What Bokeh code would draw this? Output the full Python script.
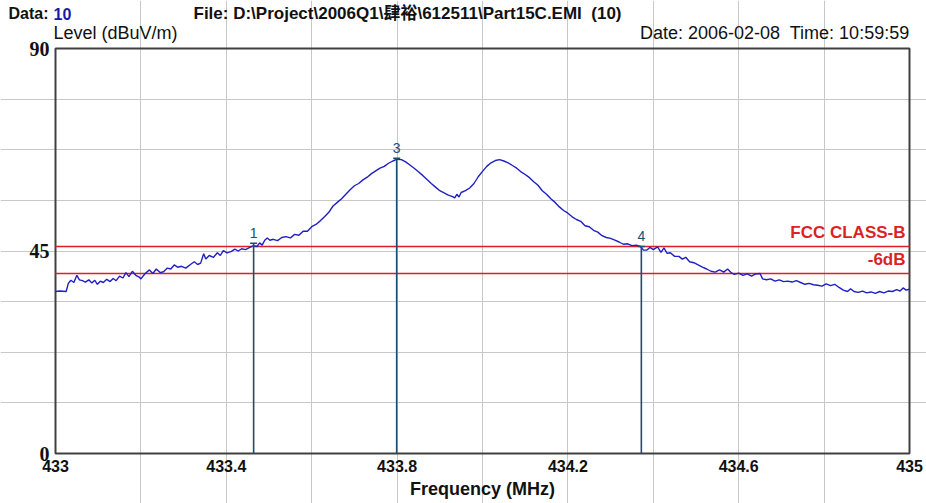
from bokeh.plotting import figure
from bokeh.models import Range1d, FixedTicker, NumeralTickFormatter, Label, ColumnDataSource
from bokeh.embed import file_html
from bokeh.resources import INLINE

# ---- data ----
freq = [433.000, 433.010, 433.025, 433.030, 433.036, 433.043, 433.050, 433.056, 433.063, 433.070,
        433.078, 433.085, 433.092, 433.098, 433.105, 433.112, 433.120, 433.128, 433.135, 433.142,
        433.150, 433.158, 433.165, 433.172, 433.180, 433.188, 433.196, 433.200, 433.210, 433.220,
        433.228, 433.236, 433.245, 433.253, 433.262, 433.270, 433.278, 433.286, 433.295, 433.305,
        433.316, 433.325, 433.333, 433.340, 433.347, 433.352, 433.360, 433.370, 433.379, 433.386,
        433.393, 433.402, 433.412, 433.420, 433.428, 433.436, 433.445, 433.455, 433.464, 433.472,
        433.478, 433.484, 433.490, 433.496, 433.502, 433.510, 433.520, 433.530, 433.540, 433.550,
        433.560, 433.570, 433.580, 433.590, 433.600, 433.610, 433.620, 433.630, 433.640, 433.650,
        433.660, 433.670, 433.680, 433.690, 433.700, 433.710, 433.720, 433.730, 433.740, 433.750,
        433.760, 433.770, 433.780, 433.790, 433.800, 433.810, 433.820, 433.830, 433.840, 433.850,
        433.860, 433.870, 433.880, 433.890, 433.900, 433.910, 433.920, 433.930, 433.935, 433.940,
        433.945, 433.950, 433.960, 433.970, 433.980, 433.990, 434.000, 434.010, 434.020, 434.030,
        434.040, 434.050, 434.060, 434.070, 434.080, 434.090, 434.100, 434.110, 434.120, 434.130,
        434.140, 434.150, 434.160, 434.170, 434.180, 434.190, 434.200, 434.210, 434.220, 434.230,
        434.240, 434.250, 434.260, 434.270, 434.280, 434.290, 434.300, 434.310, 434.320, 434.330,
        434.340, 434.350, 434.360, 434.370, 434.377, 434.385, 434.392, 434.400, 434.410, 434.418,
        434.425, 434.432, 434.440, 434.450, 434.460, 434.468, 434.476, 434.485, 434.495, 434.505,
        434.515, 434.525, 434.535, 434.545, 434.555, 434.565, 434.574, 434.582, 434.590, 434.600,
        434.610, 434.620, 434.630, 434.640, 434.650, 434.656, 434.665, 434.675, 434.685, 434.695,
        434.705, 434.715, 434.725, 434.735, 434.745, 434.755, 434.765, 434.775, 434.785, 434.795,
        434.805, 434.815, 434.825, 434.835, 434.845, 434.855, 434.862, 434.870, 434.880, 434.890,
        434.900, 434.910, 434.920, 434.930, 434.940, 434.950, 434.960, 434.970, 434.978, 434.985,
        434.992, 435.000]
level = [36.0, 36.1, 36.0, 37.8, 38.5, 38.0, 39.6, 38.6, 38.4, 38.1,
         38.6, 37.9, 38.5, 37.6, 38.3, 38.0, 38.7, 38.2, 38.9, 38.4,
         39.4, 39.0, 40.2, 39.3, 40.5, 39.6, 39.2, 38.8, 40.0, 40.8,
         40.0, 41.0, 40.2, 40.4, 41.2, 41.0, 41.9, 41.4, 41.6, 41.2,
         42.0, 42.6, 42.0, 42.3, 44.4, 43.2, 44.0, 43.6, 44.6, 44.0,
         45.1, 44.6, 44.9, 45.4, 45.0, 45.5, 45.3, 45.8, 46.2, 46.0,
         46.8, 46.3, 47.4, 47.9, 47.4, 47.6, 47.3, 48.0, 48.2, 47.9,
         48.7, 48.5, 49.4, 49.4, 50.4, 50.9, 51.7, 52.6, 53.6, 55.0,
         55.8, 56.6, 57.6, 58.6, 59.5, 60.0, 60.8, 61.4, 62.2, 62.8,
         63.4, 63.8, 64.5, 65.0, 65.4, 65.3, 64.8, 64.1, 63.4, 62.6,
         61.8, 60.9, 60.0, 59.2, 58.4, 57.9, 57.4, 57.1, 56.8, 57.6,
         57.0, 58.0, 58.4, 59.0, 60.0, 61.5, 62.7, 63.8, 64.6, 65.1,
         65.3, 65.0, 64.6, 64.0, 63.4, 62.6, 62.0, 61.3, 60.4, 59.6,
         58.4, 57.6, 56.6, 55.8, 54.8, 54.0, 53.4, 52.6, 52.0, 51.6,
         50.6, 50.4, 49.6, 49.2, 48.4, 48.0, 47.8, 47.4, 47.0, 46.5,
         46.6, 46.2, 46.3, 46.0, 45.2, 45.2, 45.8, 45.3, 45.9, 44.7,
         45.7, 44.5, 44.6, 43.8, 43.8, 43.2, 43.6, 42.6, 42.4, 41.9,
         41.4, 41.0, 40.5, 40.3, 40.8, 40.3, 41.0, 40.2, 39.8, 40.1,
         39.6, 39.9, 39.4, 39.9, 40.0, 38.8, 38.6, 38.8, 38.3, 38.6,
         38.2, 38.3, 38.1, 38.4, 38.0, 37.6, 37.8, 37.5, 37.4, 37.2,
         37.7, 37.3, 37.6, 36.9, 36.3, 36.0, 36.6, 36.0, 35.8, 36.1,
         35.7, 35.9, 35.6, 36.0, 35.7, 36.1, 36.0, 36.4, 36.1, 36.8,
         36.3, 36.5]

marker_ids = ["1", "3", "4"]
marker_freq = [433.464, 433.799, 434.372]
marker_level = [46.7, 65.6, 46.0]

limit_names = ["FCC CLASS-B", "-6dB"]
limit_levels = [46.0, 40.0]

x_ticks = [433.0, 433.4, 433.8, 434.2, 434.6, 435.0]
x_grid = [433.2, 433.4, 433.6, 433.8, 434.0, 434.2, 434.4, 434.6, 434.8]
y_ticks = [0, 45, 90]
y_grid = [11.25, 22.5, 33.75, 45.0, 56.25, 67.5, 78.75]

# ---- layout (pixels) ----
W, H = 926, 503
L, R, T, B = 55, 17, 48, 50          # plot box margins inside the canvas
X0, X1, Y0, Y1 = 433.0, 435.0, 0.0, 90.0
ppx = (W - L - R) / (X1 - X0)
ppy = (H - T - B) / (Y1 - Y0)

def dx(px):
    return X0 + (px - L) / ppx

def dy(py):
    return Y1 + (T - py) / ppy

p = figure(width=W, height=H, output_backend="svg", toolbar_location=None,
           x_range=Range1d(dx(0), dx(W)), y_range=Range1d(dy(H), dy(0)),
           min_border_left=0, min_border_right=0, min_border_top=0, min_border_bottom=0)
p.background_fill_color = "white"
p.border_fill_color = "white"
p.outline_line_color = None

# axes drawn on the plot box edges
p.xaxis.fixed_location = Y0
p.yaxis.fixed_location = X0
p.xaxis.bounds = (X0, X1)
p.yaxis.bounds = (Y0, Y1)
p.xaxis.ticker = FixedTicker(ticks=x_ticks)
p.xaxis.formatter = NumeralTickFormatter(format="0.[0]")
p.yaxis.ticker = FixedTicker(ticks=y_ticks)
for ax in (p.xaxis, p.yaxis):
    ax.axis_line_color = None
    ax.major_tick_line_color = None
    ax.minor_tick_line_color = None
    ax.major_tick_out = 0
    ax.major_tick_in = 0
    ax.major_label_text_color = "#111111"
    ax.major_label_text_font_style = "bold"
p.xaxis.major_label_text_font = "Liberation Sans"
p.xaxis.major_label_text_font_size = "16px"
p.xaxis.major_label_standoff = 6
p.xaxis.axis_label = "Frequency (MHz)"
p.xaxis.axis_label_text_font = "Liberation Sans"
p.xaxis.axis_label_text_font_style = "bold"
p.xaxis.axis_label_text_font_size = "18px"
p.xaxis.axis_label_text_color = "#111111"
p.xaxis.axis_label_standoff = 4
p.yaxis.major_label_text_font = "Liberation Serif"
p.yaxis.major_label_text_font_size = "20px"
p.yaxis.major_label_standoff = 6

# grids limited to the plot box
p.xgrid.ticker = FixedTicker(ticks=x_grid)
p.ygrid.ticker = FixedTicker(ticks=y_grid)
p.xgrid.bounds = (Y0, Y1)
p.ygrid.bounds = (X0, X1)
for g in (p.xgrid, p.ygrid):
    g.grid_line_color = "#c8c8c8"
    g.grid_line_width = 1

# plot box frame
p.quad(left=[X0], right=[X1], bottom=[Y0], top=[Y1], fill_color=None,
       line_color="#404040", line_width=2)

# limit lines
p.segment(x0=[X0] * len(limit_levels), y0=limit_levels, x1=[X1] * len(limit_levels), y1=limit_levels,
          line_color="#dd1f26", line_width=1.6)

# trace
p.line(freq, level, line_color="#1f1fc4", line_width=1.4)

# markers
msrc = ColumnDataSource(dict(f=marker_freq, lv=marker_level, zero=[Y0] * len(marker_freq), t=marker_ids))
p.segment(x0="f", y0="zero", x1="f", y1="lv", source=msrc, line_color="#1d4e6f", line_width=1.6)
p.scatter(x="f", y="lv", source=msrc, marker="dash", size=7, line_color="#1d4e6f", line_width=1.5)
for mid, mf, ml in zip(marker_ids, marker_freq, marker_level):
    p.add_layout(Label(x=mf, y=ml + 1.2, text=mid, text_align="center", text_baseline="bottom",
                       text_color="#1d4e6f", text_font="Liberation Sans", text_font_size="14px"))

# limit labels
for name, lv in zip(limit_names, limit_levels):
    p.add_layout(Label(x=dx(905), y=lv + 0.9, text=name, text_align="right", text_baseline="bottom",
                       text_color="#dd1f26", text_font="Liberation Sans", text_font_style="bold",
                       text_font_size="17px"))

# header texts
def header(px, py, text, align="left", color="#111111", style="normal", size="15px",
           font="Liberation Sans"):
    p.add_layout(Label(x=dx(px), y=dy(py), text=text, text_align=align, text_baseline="middle",
                       text_color=color, text_font=font, text_font_style=style, text_font_size=size))

header(8, 13, "Data:", style="bold", size="16px")
header(53, 13, "10", color="#1a1aa8", style="bold", size="16px")
header(193, 13, "File: D:\\Project\\2006Q1\\肆裕\\612511\\Part15C.EMI\u00a0 (10)", style="bold",
       size="17px", font="'Liberation Sans', 'Noto Sans CJK TC'")
header(53, 32, "Level (dBuV/m)", size="18px")
header(909, 32, "Date: 2006-02-08\u00a0 Time: 10:59:59", align="right", size="18px")

open("out.html", "w").write(file_html(p, INLINE))
